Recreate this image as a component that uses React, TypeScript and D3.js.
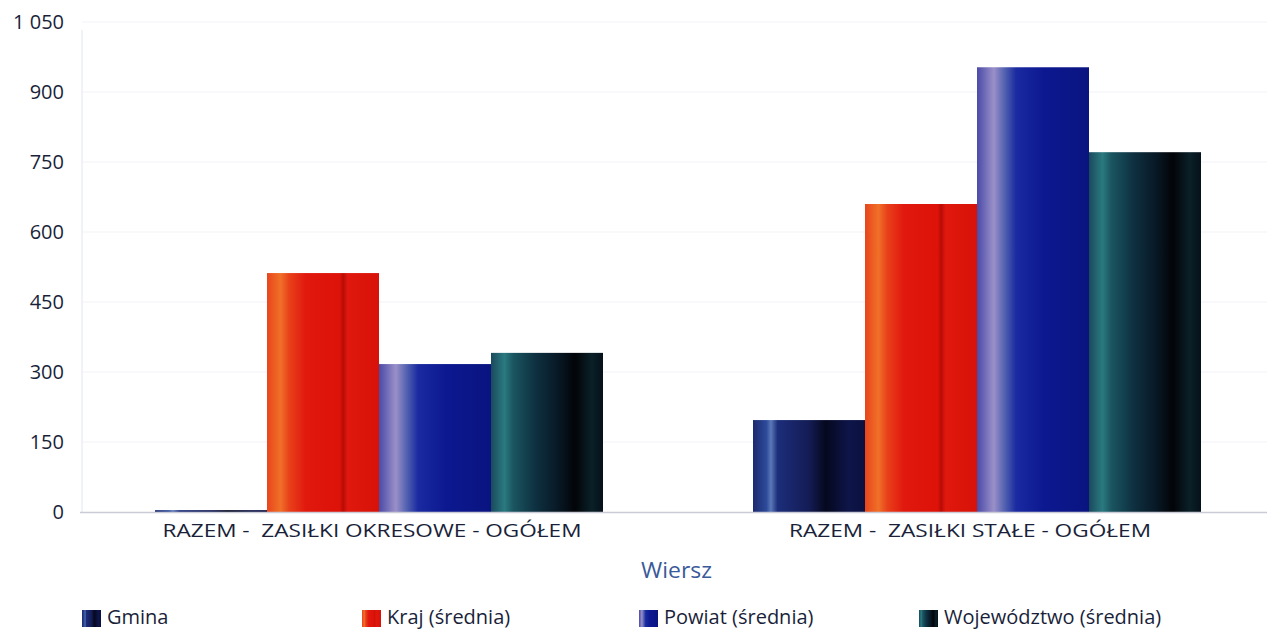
import React from "react";
import * as d3 from "d3";

const categories = ["RAZEM -  ZASIŁKI OKRESOWE - OGÓŁEM", "RAZEM -  ZASIŁKI STAŁE - OGÓŁEM"];
const seriesNames = ["Gmina", "Kraj (średnia)", "Powiat (średnia)", "Województwo (średnia)"];
const gminaValues = [4, 197];
const krajValues = [512, 660];
const powiatValues = [317, 953];
const wojValues = [341, 771];
const yTicks = [0, 150, 300, 450, 600, 750, 900, 1050];

const seriesValues = [gminaValues, krajValues, powiatValues, wojValues];

const gradients: { id: string; stops: [number, string][] }[] = [
  { id: "g0", stops: [[0, "#1b2a6e"], [0.12, "#2d4a9a"], [0.16, "#5a78b8"], [0.22, "#1c2d7a"], [0.5, "#141c55"], [0.65, "#05081e"], [0.85, "#0e1548"], [1, "#0b1040"]] },
  { id: "g1", stops: [[0, "#e8451c"], [0.12, "#f07028"], [0.2, "#e8401a"], [0.35, "#e0180e"], [0.65, "#dd1208"], [0.68, "#b80c06"], [0.72, "#e0180e"], [1, "#d81208"]] },
  { id: "g2", stops: [[0, "#4a4aa8"], [0.15, "#9a90c8"], [0.25, "#5060b0"], [0.35, "#1a2aa0"], [0.6, "#0c1890"], [1, "#0a1480"]] },
  { id: "g3", stops: [[0, "#1a4a5c"], [0.12, "#2a7a80"], [0.2, "#1a5560"], [0.4, "#0e3040"], [0.6, "#081825"], [0.75, "#020408"], [0.9, "#0a2028"], [1, "#05101a"]] },
];

export default function App() {
  const width = 1267;
  const height = 629;
  const left = 80;
  const right = 1276;
  const top = 22;
  const bottom = 512;

  const x0 = d3.scaleBand<string>().domain(categories).range([left, right]).paddingInner(0).paddingOuter(0);
  const groupPad = 75;
  const x1 = d3
    .scaleBand<string>()
    .domain(seriesNames)
    .range([0, x0.bandwidth() - 2 * groupPad])
    .padding(0);
  const y = d3.scaleLinear().domain([0, 1050]).range([bottom, top]);
  const fmt = (v: number) => d3.format(",")(v).replace(/,/g, " ");

  const legendX = [82, 362, 639, 919];
  const catTextLen = [419, 362];
  const catCenter = [372, 970];

  return (
    <svg width={width} height={height} style={{ position: "absolute", left: 0, top: 0, fontFamily: "'Open Sans', sans-serif" }}>
      <defs>
        {gradients.map((g) => (
          <linearGradient key={g.id} id={g.id} x1="0" y1="0" x2="1" y2="0">
            {g.stops.map(([o, c], i) => (
              <stop key={i} offset={o} stopColor={c} />
            ))}
          </linearGradient>
        ))}
      </defs>
      <rect width={width} height={height} fill="#fff" />
      {yTicks.map((t) => (
        <g key={t}>
          {t > 0 && <line x1={left + 2} x2={right} y1={y(t)} y2={y(t)} stroke="#f2f3f6" strokeWidth={1} />}
          <text x={64} y={y(t)} dy="0.35em" textAnchor="end" fontSize={20} fill="#1a1f3a">
            {fmt(t)}
          </text>
        </g>
      ))}
      <line x1={left + 2} x2={left + 2} y1={top + 8} y2={bottom} stroke="#eceef2" strokeWidth={1.5} />
      {categories.map((c, ci) => (
        <g key={c} transform={`translate(${(x0(c) as number) + groupPad},0)`}>
          {seriesNames.map((s, si) => {
            const v = seriesValues[si][ci];
            return (
              <rect
                key={s}
                x={x1(s) as number}
                y={y(v)}
                width={x1.bandwidth()}
                height={bottom - y(v)}
                fill={`url(#g${si})`}
              />
            );
          })}
        </g>
      ))}
      <line x1={left} x2={right} y1={bottom + 0.5} y2={bottom + 0.5} stroke="#c9ccd6" strokeWidth={1.5} />
      {categories.map((c, ci) => (
        <text
          key={c}
          x={catCenter[ci] - catTextLen[ci] / 2}
          y={537}
          fontSize={19}
          fill="#1a1f3a"
          textLength={catTextLen[ci]}
          lengthAdjust="spacingAndGlyphs"
          style={{ whiteSpace: "pre" }}
        >
          {c}
        </text>
      ))}
      <text x={641} y={578} fontSize={21} fill="#3b5a9a" textLength={71} lengthAdjust="spacingAndGlyphs">
        Wiersz
      </text>
      {seriesNames.map((s, i) => (
        <g key={s} transform={`translate(${legendX[i]},607)`}>
          <rect x={0} y={3} width={19} height={17} fill={`url(#g${i})`} />
          <text x={25} y={17} fontSize={20} fill="#1a1f3a">
            {s}
          </text>
        </g>
      ))}
    </svg>
  );
}
